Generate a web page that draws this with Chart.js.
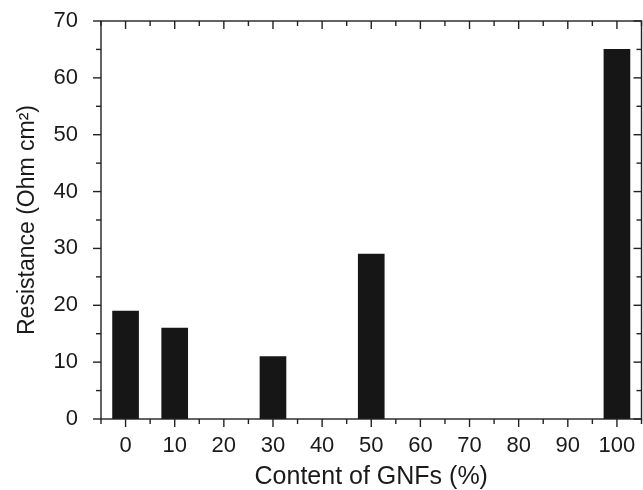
<!DOCTYPE html>
<html><head><meta charset="utf-8">
<script src="https://cdn.jsdelivr.net/npm/chart.js@4"></script>
<style>html,body{margin:0;padding:0;background:#fff}</style>
</head><body>
<canvas id="c" width="643" height="490"></canvas>
<script>
const categories = [0, 10, 30, 50, 100];
const resistance = [19, 16, 11, 29, 65];
const xMajorTicks = [0, 10, 20, 30, 40, 50, 60, 70, 80, 90, 100];
const xMinorTicks = [-5, 5, 15, 25, 35, 45, 55, 65, 75, 85, 95, 105];
const yMajorTicks = [0, 10, 20, 30, 40, 50, 60, 70];
const yMinorTicks = [5, 15, 25, 35, 45, 55, 65];
const xTitle = 'Content of GNFs (%)';
const yTitle = 'Resistance (Ohm cm²)';

const FONT = '"Liberation Sans", Arial, Helvetica, sans-serif';
const INK = '#1a1a1a';

const frame = {
  id: 'frame',
  afterDatasetsDraw(chart) {
    const {ctx, chartArea: a, scales: {x, y}} = chart;
    ctx.save();
    ctx.strokeStyle = '#222';
    ctx.lineWidth = 1.4;
    ctx.lineCap = 'butt';
    const seg = (x1, y1, x2, y2) => { ctx.beginPath(); ctx.moveTo(x1, y1); ctx.lineTo(x2, y2); ctx.stroke(); };
    ctx.strokeRect(a.left, a.top, a.right - a.left, a.bottom - a.top);
    xMajorTicks.forEach(v => { const p = x.getPixelForValue(v); seg(p, a.bottom, p, a.bottom + 8); seg(p, a.top, p, a.top + 8); });
    xMinorTicks.forEach(v => { const p = x.getPixelForValue(v); seg(p, a.bottom, p, a.bottom + 5); seg(p, a.top, p, a.top + 5); });
    yMajorTicks.forEach(v => { const p = y.getPixelForValue(v); seg(a.left, p, a.left - 8, p); seg(a.right, p, a.right - 8, p); });
    yMinorTicks.forEach(v => { const p = y.getPixelForValue(v); seg(a.left, p, a.left - 5, p); seg(a.right, p, a.right - 5, p); });
    ctx.restore();
  }
};

new Chart(document.getElementById('c'), {
  type: 'bar',
  data: {
    datasets: [{
      data: categories.map((c, i) => ({x: c, y: resistance[i]})),
      backgroundColor: '#161616',
      borderWidth: 0,
      barThickness: 26
    }]
  },
  options: {
    responsive: false,
    animation: false,
    layout: {padding: {top: 21, right: 1.5, left: 0, bottom: 0}},
    plugins: {legend: {display: false}, tooltip: {enabled: false}},
    scales: {
      x: {
        type: 'linear',
        offset: false,
        min: -5, max: 105,
        afterBuildTicks: s => { s.ticks = xMajorTicks.map(v => ({value: v})); },
        afterFit: s => { s.height = 71; s.paddingLeft = 0; s.paddingRight = 0; },
        grid: {display: false},
        border: {display: false},
        ticks: {autoSkip: false, maxRotation: 0, padding: 6, color: INK, font: {family: FONT, size: 22}},
        title: {display: true, text: xTitle, color: INK, font: {family: FONT, size: 25, lineHeight: 1}, padding: {top: 0, bottom: 0.5}}
      },
      y: {
        min: 0, max: 70,
        afterBuildTicks: s => { s.ticks = yMajorTicks.map(v => ({value: v})); },
        afterFit: s => { s.width = 101; s.paddingTop = 0; s.paddingBottom = 0; },
        grid: {display: false},
        border: {display: false},
        ticks: {padding: 15, color: INK, font: {family: FONT, size: 22}},
        title: {display: true, text: yTitle, color: INK, font: {family: FONT, size: 23, lineHeight: 1}, padding: {top: 16, bottom: 0}}
      }
    }
  },
  plugins: [frame]
});
</script>
</body></html>
